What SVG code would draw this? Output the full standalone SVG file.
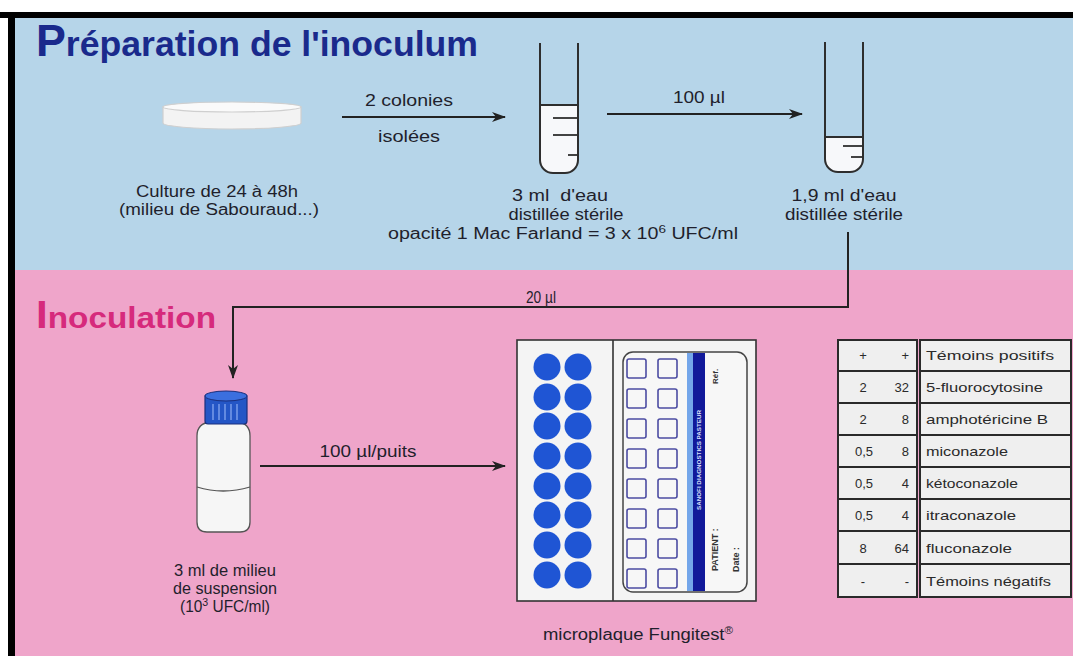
<svg xmlns="http://www.w3.org/2000/svg" width="1073" height="656" viewBox="0 0 1073 656">
  <defs>
    <marker id="arrow" viewBox="0 0 14 10" refX="13" refY="5" markerWidth="14" markerHeight="10" markerUnits="userSpaceOnUse" orient="auto">
      <path d="M0,0 L14,5 L0,10 L4,5 Z" fill="#222"/>
    </marker>
    <style>
      .lbl { font-family: "Liberation Sans", Arial, sans-serif; font-size: 16px; fill: #1f1f2c; text-anchor: middle; }
      .tbl { font-family: "Liberation Sans", Arial, sans-serif; font-size: 13px; fill: #2a2a2a; }
      .conn { fill: none; stroke: #222; stroke-width: 2; }
      .tube { fill: none; stroke: #2e2e2e; stroke-width: 2; }
      .liquid { fill: #f7f8fa; stroke: none; }
      .tick { stroke: #2e2e2e; stroke-width: 1.8; }
      .well { fill: #1f55d4; }
      .sq { fill: none; stroke: #4c4ca2; stroke-width: 1.6; }
      .cell { fill: #efefef; stroke: #2a2a2a; stroke-width: 2; }
    </style>
  </defs>

  <!-- page background and frame -->
  <rect x="0" y="0" width="1073" height="656" fill="#ffffff"/>
  <rect x="15" y="18" width="1058" height="252" fill="#b6d5e9"/>
  <rect x="15" y="270" width="1058" height="386" fill="#efa5ca"/>
  <rect x="0" y="12" width="1073" height="6" fill="#000"/>
  <rect x="8" y="12" width="7" height="644" fill="#000"/>

  <!-- section titles -->
  <g id="title-preparation">
    <text x="36" y="56" font-family="Liberation Sans, Arial, sans-serif" font-weight="bold" fill="#1a2a8c" font-size="35" textLength="442" lengthAdjust="spacingAndGlyphs"><tspan font-size="44">P</tspan>réparation de l'inoculum</text>
  </g>
  <g id="title-inoculation">
    <text x="36" y="328" font-family="Liberation Sans, Arial, sans-serif" font-weight="bold" fill="#d62a7c" font-size="30" textLength="180" lengthAdjust="spacingAndGlyphs"><tspan font-size="38">I</tspan>noculation</text>
  </g>

  <!-- Petri dish culture -->
  <g id="petri-dish">
    <path d="M163,107 L163,123 A69,6 0 0 0 301,123 L301,107 Z" fill="#f3f3f3" stroke="#cfcfcf" stroke-width="1.2"/>
    <ellipse cx="232" cy="107" rx="69" ry="5" fill="#fafafa" stroke="#cfcfcf" stroke-width="1.2"/>
    <text class="lbl" x="217" y="197" textLength="162" lengthAdjust="spacingAndGlyphs">Culture de 24 à 48h</text>
    <text class="lbl" x="219" y="215" textLength="200" lengthAdjust="spacingAndGlyphs">(milieu de Sabouraud...)</text>
  </g>

  <!-- first tube: 3 ml -->
  <g id="tube-3ml">
    <path class="liquid" d="M540,105 L578,105 L578,160 A13,13 0 0 1 565,173 L553,173 A13,13 0 0 1 540,160 Z"/>
    <path class="tube" d="M540,43 L540,160 A13,13 0 0 0 553,173 L565,173 A13,13 0 0 0 578,160 L578,43"/>
    <line class="tick" x1="540" y1="105" x2="578" y2="105"/>
    <line class="tick" x1="553" y1="118" x2="578" y2="118"/>
    <line class="tick" x1="553" y1="135" x2="578" y2="135"/>
    <line class="tick" x1="568" y1="155" x2="578" y2="155"/>
    <text class="lbl" x="560" y="201" textLength="96" lengthAdjust="spacingAndGlyphs">3 ml&#160; d'eau</text>
    <text class="lbl" x="566" y="220" textLength="115" lengthAdjust="spacingAndGlyphs">distillée stérile</text>
    <text class="lbl" x="563" y="239" textLength="350" lengthAdjust="spacingAndGlyphs">opacité 1 Mac Farland = 3 x 10<tspan dy="-6" font-size="11">6</tspan><tspan dy="6"> UFC/ml</tspan></text>
  </g>

  <!-- second tube: 1,9 ml -->
  <g id="tube-1-9ml">
    <path class="liquid" d="M825,137 L863,137 L863,159 A13,13 0 0 1 850,172 L838,172 A13,13 0 0 1 825,159 Z"/>
    <path class="tube" d="M825,42 L825,159 A13,13 0 0 0 838,172 L850,172 A13,13 0 0 0 863,159 L863,42"/>
    <line class="tick" x1="825" y1="137" x2="863" y2="137"/>
    <line class="tick" x1="843" y1="146" x2="863" y2="146"/>
    <line class="tick" x1="851" y1="157" x2="863" y2="157"/>
    <text class="lbl" x="844" y="201" textLength="105" lengthAdjust="spacingAndGlyphs">1,9 ml d'eau</text>
    <text class="lbl" x="844" y="220" textLength="118" lengthAdjust="spacingAndGlyphs">distillée stérile</text>
  </g>

  <!-- suspension bottle -->
  <g id="bottle">
    <path d="M197,436 Q197,423 211,422 L237,422 Q250,423 250,436 L250,522 Q250,532 240,532 L207,532 Q197,532 197,522 Z" fill="#f6f6f6" stroke="#555" stroke-width="1.3"/>
    <path d="M197,487 Q223,495 250,487" fill="none" stroke="#555" stroke-width="1.3"/>
    <rect x="205" y="394" width="42" height="30" rx="3" fill="#2456c6" stroke="#1b2f7c" stroke-width="1.2"/>
    <ellipse cx="226" cy="396" rx="21" ry="5" fill="#3b6fdf" stroke="#1b2f7c" stroke-width="1"/>
    <g stroke="#7398e8" stroke-width="1.6">
      <line x1="213" y1="404" x2="213" y2="420"/>
      <line x1="219" y1="404" x2="219" y2="420"/>
      <line x1="225" y1="404" x2="225" y2="420"/>
      <line x1="231" y1="404" x2="231" y2="420"/>
      <line x1="237" y1="404" x2="237" y2="420"/>
    </g>
    <text class="lbl" x="225" y="576" textLength="102" lengthAdjust="spacingAndGlyphs">3 ml de milieu</text>
    <text class="lbl" x="225" y="594" textLength="104" lengthAdjust="spacingAndGlyphs">de suspension</text>
    <text class="lbl" x="225" y="612" textLength="90" lengthAdjust="spacingAndGlyphs">(10<tspan dy="-6" font-size="11">3</tspan><tspan dy="6"> UFC/ml)</tspan></text>
  </g>

  <!-- Fungitest microplate -->
  <g id="microplate">
    <rect x="517" y="340" width="239" height="261" fill="#f4f4f4" stroke="#333" stroke-width="1.6"/>
    <line x1="613" y1="340" x2="613" y2="601" stroke="#333" stroke-width="1.6"/>
    <g>
      <circle class="well" cx="547" cy="367" r="13.5"/><circle class="well" cx="578" cy="367" r="13.5"/>
      <circle class="well" cx="547" cy="397" r="13.5"/><circle class="well" cx="578" cy="397" r="13.5"/>
      <circle class="well" cx="547" cy="426" r="13.5"/><circle class="well" cx="578" cy="426" r="13.5"/>
      <circle class="well" cx="547" cy="456" r="13.5"/><circle class="well" cx="578" cy="456" r="13.5"/>
      <circle class="well" cx="547" cy="486" r="13.5"/><circle class="well" cx="578" cy="486" r="13.5"/>
      <circle class="well" cx="547" cy="515" r="13.5"/><circle class="well" cx="578" cy="515" r="13.5"/>
      <circle class="well" cx="547" cy="545" r="13.5"/><circle class="well" cx="578" cy="545" r="13.5"/>
      <circle class="well" cx="547" cy="575" r="13.5"/><circle class="well" cx="578" cy="575" r="13.5"/>
    </g>
    <rect x="623" y="352" width="124" height="240" rx="10" fill="#f7f7f7" stroke="#444" stroke-width="1.5"/>
    <rect x="687" y="353" width="6" height="238" fill="#74a6ea"/>
    <rect x="693" y="353" width="12" height="238" fill="#11199a"/>
    <g>
      <rect class="sq" x="627" y="359" width="19" height="19" rx="2"/><rect class="sq" x="658" y="359" width="19" height="19" rx="2"/>
      <rect class="sq" x="627" y="389" width="19" height="19" rx="2"/><rect class="sq" x="658" y="389" width="19" height="19" rx="2"/>
      <rect class="sq" x="627" y="419" width="19" height="19" rx="2"/><rect class="sq" x="658" y="419" width="19" height="19" rx="2"/>
      <rect class="sq" x="627" y="449" width="19" height="19" rx="2"/><rect class="sq" x="658" y="449" width="19" height="19" rx="2"/>
      <rect class="sq" x="627" y="479" width="19" height="19" rx="2"/><rect class="sq" x="658" y="479" width="19" height="19" rx="2"/>
      <rect class="sq" x="627" y="509" width="19" height="19" rx="2"/><rect class="sq" x="658" y="509" width="19" height="19" rx="2"/>
      <rect class="sq" x="627" y="539" width="19" height="19" rx="2"/><rect class="sq" x="658" y="539" width="19" height="19" rx="2"/>
      <rect class="sq" x="627" y="569" width="19" height="19" rx="2"/><rect class="sq" x="658" y="569" width="19" height="19" rx="2"/>
    </g>
    <text transform="translate(701,510) rotate(-90)" font-family="Liberation Sans, Arial, sans-serif" font-size="5" font-weight="bold" fill="#dfe6ff" textLength="100" lengthAdjust="spacingAndGlyphs">SANOFI DIAGNOSTICS PASTEUR</text>
    <text transform="translate(718,571) rotate(-90)" font-family="Liberation Sans, Arial, sans-serif" font-size="9" font-weight="bold" fill="#333">PATIENT :</text>
    <text transform="translate(739,572) rotate(-90)" font-family="Liberation Sans, Arial, sans-serif" font-size="9" font-weight="bold" fill="#333">Date :</text>
    <text transform="translate(718,384) rotate(-90)" font-family="Liberation Sans, Arial, sans-serif" font-size="8" font-weight="bold" fill="#333">Réf.</text>
    <text class="lbl" x="638" y="640" textLength="190" lengthAdjust="spacingAndGlyphs">microplaque Fungitest<tspan dy="-6" font-size="10">®</tspan></text>
  </g>

  <!-- concentration table -->
  <g id="table">
    <rect class="cell" x="838" y="340" width="79" height="31"/><rect class="cell" x="920" y="340" width="151" height="31"/>
    <rect class="cell" x="838" y="371" width="79" height="32"/><rect class="cell" x="920" y="371" width="151" height="32"/>
    <rect class="cell" x="838" y="403" width="79" height="32"/><rect class="cell" x="920" y="403" width="151" height="32"/>
    <rect class="cell" x="838" y="435" width="79" height="32"/><rect class="cell" x="920" y="435" width="151" height="32"/>
    <rect class="cell" x="838" y="467" width="79" height="32"/><rect class="cell" x="920" y="467" width="151" height="32"/>
    <rect class="cell" x="838" y="499" width="79" height="32"/><rect class="cell" x="920" y="499" width="151" height="32"/>
    <rect class="cell" x="838" y="531" width="79" height="33"/><rect class="cell" x="920" y="531" width="151" height="33"/>
    <rect class="cell" x="838" y="564" width="79" height="33"/><rect class="cell" x="920" y="564" width="151" height="33"/>

    <g class="tbl" text-anchor="middle">
      <text x="863" y="360">+</text>
      <text x="863" y="392">2</text>
      <text x="863" y="424">2</text>
      <text x="864" y="456">0,5</text>
      <text x="864" y="488">0,5</text>
      <text x="864" y="520">0,5</text>
      <text x="863" y="553">8</text>
      <text x="863" y="586">-</text>
    </g>
    <g class="tbl" text-anchor="end">
      <text x="909" y="360">+</text>
      <text x="909" y="392">32</text>
      <text x="909" y="424">8</text>
      <text x="909" y="456">8</text>
      <text x="909" y="488">4</text>
      <text x="909" y="520">4</text>
      <text x="909" y="553">64</text>
      <text x="909" y="586">-</text>
    </g>
    <g class="tbl">
      <text x="926" y="360" textLength="128" lengthAdjust="spacingAndGlyphs">Témoins positifs</text>
      <text x="926" y="392" textLength="117" lengthAdjust="spacingAndGlyphs">5-fluorocytosine</text>
      <text x="926" y="424" textLength="122" lengthAdjust="spacingAndGlyphs">amphotéricine B</text>
      <text x="926" y="456" textLength="82" lengthAdjust="spacingAndGlyphs">miconazole</text>
      <text x="926" y="488" textLength="92" lengthAdjust="spacingAndGlyphs">kétoconazole</text>
      <text x="926" y="520" textLength="90" lengthAdjust="spacingAndGlyphs">itraconazole</text>
      <text x="926" y="553" textLength="86" lengthAdjust="spacingAndGlyphs">fluconazole</text>
      <text x="926" y="586" textLength="125" lengthAdjust="spacingAndGlyphs">Témoins négatifs</text>
    </g>
  </g>

  <!-- connectors with their labels -->
  <g id="connectors">
    <line class="conn" x1="342" y1="117" x2="505" y2="117" marker-end="url(#arrow)"/>
    <text class="lbl" x="409" y="106" textLength="88" lengthAdjust="spacingAndGlyphs">2 colonies</text>
    <text class="lbl" x="409" y="142" textLength="62" lengthAdjust="spacingAndGlyphs">isolées</text>

    <line class="conn" x1="607" y1="114" x2="802" y2="114" marker-end="url(#arrow)"/>
    <text class="lbl" x="699" y="103" textLength="52" lengthAdjust="spacingAndGlyphs">100 µl</text>

    <polyline class="conn" points="848,232 848,307 233,307 233,378" marker-end="url(#arrow)"/>
    <text class="lbl" x="541" y="303" textLength="30" lengthAdjust="spacingAndGlyphs">20 µl</text>

    <line class="conn" x1="260" y1="466" x2="505" y2="466" marker-end="url(#arrow)"/>
    <text class="lbl" x="368" y="457" textLength="97" lengthAdjust="spacingAndGlyphs">100 µl/puits</text>
  </g>
</svg>
